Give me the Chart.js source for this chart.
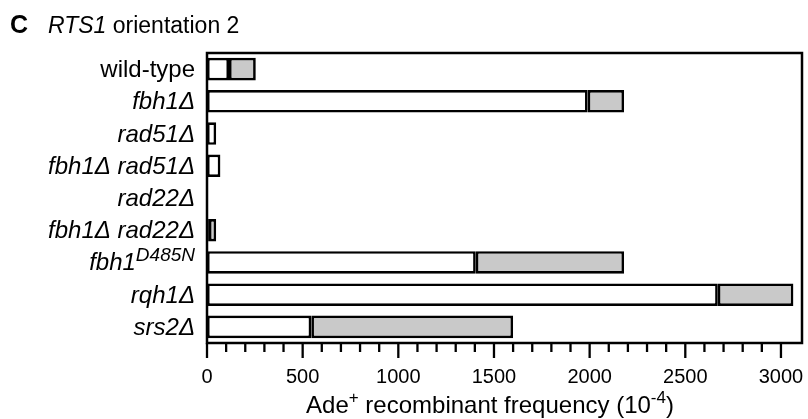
<!DOCTYPE html>
<html>
<head>
<meta charset="utf-8">
<script src="https://cdn.jsdelivr.net/npm/chart.js@4/dist/chart.umd.min.js"></script>
<style>
    body { margin: 0; background: #fff; }
    canvas { display: block; }
</style>
</head>
<body>
<canvas id="chart" width="808" height="419"></canvas>
<script>
// Stämme (^ = hochgestellt)
const strains = ['wild-type', 'fbh1Δ', 'rad51Δ', 'fbh1Δ rad51Δ', 'rad22Δ', 'fbh1Δ rad22Δ', 'fbh1^D485N', 'rqh1Δ', 'srs2Δ'];
// weißer Balkenteil
const whiteValues = [115, 1990, 48, 70, 0, 10, 1405, 2670, 545];
// grauer Teil (oben drauf gestapelt)
const greyValues = [140, 190, 0, 0, 0, 38, 775, 395, 1055];
// Achse
const majorTicks = [0, 500, 1000, 1500, 2000, 2500, 3000];
const minorStep = 100;
const xMax = 3110;

const fontFamily = "'Liberation Sans', Arial, Helvetica, sans-serif";

// Text mit Hochstellung zeichnen (rechtsbündig)
function drawRich(ctx, text, x, y, size, style) {
    const parts = text.split('^');
    const base = style + ' ' + size + 'px ' + fontFamily;
    const sup = style + ' ' + Math.round(size * 0.78) + 'px ' + fontFamily;
    ctx.font = base;
    let w = ctx.measureText(parts[0]).width;
    if (parts[1]) {
        ctx.font = sup;
        w += ctx.measureText(parts[1]).width;
    }
    let cx = x - w;
    ctx.textAlign = 'left';
    ctx.textBaseline = 'alphabetic';
    ctx.font = base;
    ctx.fillText(parts[0], cx, y);
    cx += ctx.measureText(parts[0]).width;
    if (parts[1]) {
        ctx.font = sup;
        ctx.fillText(parts[1], cx, y - size * 0.4);
    }
}

const frameAndLabels = {
    id: 'frameAndLabels',
    afterDraw(chart) {
        const { ctx, chartArea: { top, bottom, left, right }, scales: { x, y } } = chart;
        ctx.save();
        ctx.fillStyle = '#000';
        ctx.strokeStyle = '#000';

        // Rahmen
        ctx.lineWidth = 2.5;
        ctx.strokeRect(left, top, right - left, bottom - top);

        // Ticks unten (lang bei 500, kurz bei 100)
        ctx.lineWidth = 2.3;
        x.ticks.forEach(t => {
            const px = x.getPixelForValue(t.value);
            const len = majorTicks.includes(t.value) ? 15 : 9;
            ctx.beginPath();
            ctx.moveTo(px, bottom);
            ctx.lineTo(px, bottom + len);
            ctx.stroke();
        });

        // Y-Beschriftungen
        strains.forEach((s, i) => {
            const py = y.getPixelForValue(i);
            const style = s === 'wild-type' ? 'normal' : 'italic';
            drawRich(ctx, s, 195, py + 8, 24, style);
        });

        // Achsentitel
        const size = 24;
        const supSize = 17;
        const pieces = [
            ['Ade', size, 0],
            ['+', supSize, -10],
            [' recombinant frequency (10', size, 0],
            ['-4', supSize, -10],
            [')', size, 0]
        ];
        let total = 0;
        pieces.forEach(p => {
            ctx.font = 'normal ' + p[1] + 'px ' + fontFamily;
            total += ctx.measureText(p[0]).width;
        });
        let cx = 490 - total / 2;
        ctx.textAlign = 'left';
        ctx.textBaseline = 'alphabetic';
        pieces.forEach(p => {
            ctx.font = 'normal ' + p[1] + 'px ' + fontFamily;
            ctx.fillText(p[0], cx, 413 + p[2]);
            cx += ctx.measureText(p[0]).width;
        });

        // Überschrift
        ctx.font = 'bold 25px ' + fontFamily;
        ctx.fillText('C', 10, 33);
        ctx.font = 'italic 23px ' + fontFamily;
        ctx.fillText('RTS1', 48, 33);
        const w = ctx.measureText('RTS1').width;
        ctx.font = 'normal 23px ' + fontFamily;
        ctx.fillText(' orientation 2', 48 + w, 33);

        ctx.restore();
    }
};

new Chart(document.getElementById('chart'), {
    type: 'bar',
    data: {
        labels: strains,
        datasets: [{
            data: whiteValues,
            backgroundColor: '#ffffff',
            borderColor: '#000000',
            borderWidth: 2.7,
            borderSkipped: false
        }, {
            data: greyValues,
            backgroundColor: '#c9c9c9',
            borderColor: '#000000',
            borderWidth: 2.7,
            borderSkipped: false
        }]
    },
    options: {
        indexAxis: 'y',
        responsive: false,
        animation: false,
        devicePixelRatio: 1,
        layout: {
            padding: { left: 207, top: 53, right: 6, bottom: 30 }
        },
        datasets: {
            bar: {
                categoryPercentage: 0.7,
                barPercentage: 1
            }
        },
        plugins: {
            legend: { display: false },
            tooltip: { enabled: false }
        },
        scales: {
            x: {
                stacked: true,
                min: 0,
                max: xMax,
                grid: { display: false, drawTicks: false },
                border: { display: false },
                afterBuildTicks: (scale) => {
                    const list = [];
                    for (let v = 0; v <= majorTicks[majorTicks.length - 1]; v += minorStep) {
                        list.push({ value: v });
                    }
                    scale.ticks = list;
                },
                afterFit: (scale) => {
                    // feste Höhe, keine Randpolster durch die Beschriftung
                    scale.height = 46;
                    scale.paddingLeft = 0;
                    scale.paddingRight = 0;
                },
                ticks: {
                    autoSkip: false,
                    maxRotation: 0,
                    minRotation: 0,
                    padding: 22,
                    color: '#000',
                    font: { family: fontFamily, size: 20 },
                    callback: (v) => majorTicks.includes(v) ? String(v) : ''
                }
            },
            y: {
                stacked: true,
                display: false
            }
        }
    },
    plugins: [frameAndLabels]
});
</script>
</body>
</html>
